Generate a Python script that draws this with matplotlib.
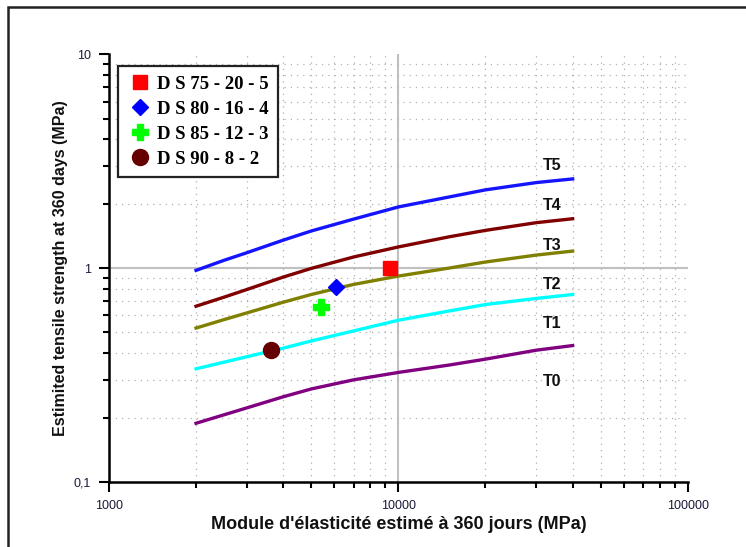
import numpy as np
import matplotlib
matplotlib.use("Agg")
import matplotlib.pyplot as plt
from matplotlib.ticker import FixedLocator, NullFormatter, LogLocator
from matplotlib.patches import Rectangle

# curves T1..T5
E_curve = [2000, 2500, 3000, 4000, 5000, 7000, 10000, 15000, 20000, 30000, 40000]
T5 = [0.975, 1.087, 1.18, 1.35, 1.49, 1.693, 1.93, 2.15, 2.32, 2.51, 2.61]
T4 = [0.663, 0.731, 0.794, 0.907, 0.996, 1.126, 1.255, 1.40, 1.50, 1.63, 1.70]
T3 = [0.524, 0.574, 0.617, 0.692, 0.752, 0.838, 0.917, 1.0, 1.067, 1.15, 1.20]
T2 = [0.338, 0.363, 0.385, 0.422, 0.456, 0.508, 0.570, 0.63, 0.675, 0.721, 0.752]
T1 = [0.188, 0.206, 0.222, 0.250, 0.272, 0.30, 0.325, 0.352, 0.375, 0.413, 0.434]

# measured mixes
mix_names = ["D S 75 - 20 - 5", "D S 80 - 16 - 4", "D S 85 - 12 - 3", "D S 90 - 8 - 2"]
mix_E = [9350, 6110, 5390, 3620]
mix_ft = [1.0, 0.815, 0.658, 0.412]

curve_labels = ["T5", "T4", "T3", "T2", "T1", "T0"]
label_y = [3.01, 1.95, 1.28, 0.841, 0.552, 0.295]
label_x = 33900

fig = plt.figure(figsize=(7.46, 5.47), dpi=100)
ax = fig.add_axes([0.146, 0.119, 0.776, 0.782])

# outer frame
fig.patches.append(Rectangle((8 / 746, -0.05), 1.2, 1.05 - 7 / 547, transform=fig.transFigure,
                             fill=False, lw=1.8, ec="#222222"))

ax.set_xscale("log")
ax.set_yscale("log")
ax.set_xlim(1000, 100000)
ax.set_ylim(0.1, 10)

# grid
ax.grid(which="minor", color="#b0b0b0", ls=(0, (1, 4)), lw=0.9)
ax.axvline(10000, color="#c0c0c0", lw=1.5, zorder=1)
ax.axhline(1, color="#c0c0c0", lw=1.5, zorder=1)

ax.plot(E_curve, T5, color="#1414ff", lw=2.4, zorder=3)
ax.plot(E_curve, T4, color="#800000", lw=2.4, zorder=3)
ax.plot(E_curve, T3, color="#808000", lw=2.4, zorder=3)
ax.plot(E_curve, T2, color="#00ffff", lw=2.4, zorder=3)
ax.plot(E_curve, T1, color="#800080", lw=2.4, zorder=3)

styles = [dict(marker="s", color="#ff0000", ms=10),
          dict(marker="D", color="#0000ff", ms=8),
          dict(marker="P", color="#00ff00", ms=11),
          dict(marker="o", color="#660000", ms=11.5)]
for name, e, f, st in zip(mix_names, mix_E, mix_ft, styles):
    ax.plot([e], [f], ls="none", marker=st["marker"], color=st["color"], ms=st["ms"],
            mec=st["color"], label=name, zorder=4)

for lab, yy in zip(curve_labels, label_y):
    ax.text(label_x, yy, lab, ha="center", va="center", fontsize=11.5, fontweight="bold",
            family="Liberation Sans", color="#111111")

leg = ax.legend(loc="upper left", bbox_to_anchor=(0.015, 0.972), frameon=True, fancybox=False,
                edgecolor="#222222", framealpha=1, handletextpad=0.2, labelspacing=0.42,
                borderpad=0.5, handlelength=1.4, borderaxespad=0,
                prop=dict(family="Liberation Serif", weight="bold", size=13.5))
leg.get_frame().set_linewidth(1.6)

# axes look
for s in ["top", "right"]:
    ax.spines[s].set_visible(False)
for s in ["left", "bottom"]:
    ax.spines[s].set_linewidth(1.8)
ax.xaxis.set_major_locator(FixedLocator([1000, 10000, 100000]))
ax.yaxis.set_major_locator(FixedLocator([0.1, 1, 10]))
ax.xaxis.set_minor_locator(LogLocator(base=10, subs=np.arange(2, 10)))
ax.yaxis.set_minor_locator(LogLocator(base=10, subs=np.arange(2, 10)))
ax.xaxis.set_minor_formatter(NullFormatter())
ax.yaxis.set_minor_formatter(NullFormatter())
ax.set_xticklabels(["1000", "10000", "100000"])
ax.set_yticklabels(["0,1", "1", "10"])
ax.tick_params(which="major", direction="out", length=7, width=1.5, labelsize=9,
               labelcolor="#1a1a3a", pad=6)
ax.tick_params(which="minor", direction="out", length=4, width=1.5)
for t in ax.get_xticklabels() + ax.get_yticklabels():
    t.set_family("Liberation Sans")

ax.set_xlabel("Module d'élasticité estimé à 360 jours (MPa)", family="Liberation Sans",
              fontweight="bold", fontsize=13, color="#111111", labelpad=3)
ax.set_ylabel("Estimited tensile strength at 360 days (MPa)", family="Liberation Sans",
              fontweight="bold", fontsize=11.5, color="#111111", labelpad=4)

fig.savefig("out.png", dpi=100)
